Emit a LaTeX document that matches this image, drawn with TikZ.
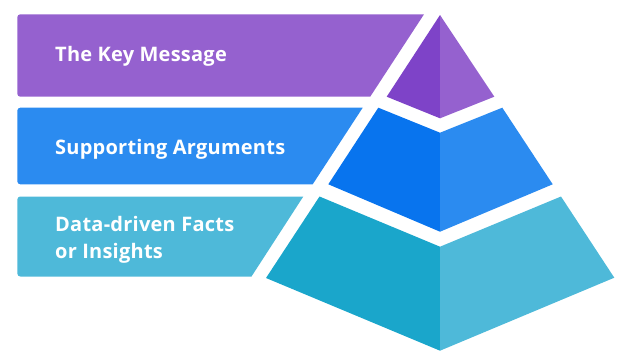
\documentclass[tikz,border=0pt]{standalone}
\usepackage{fontspec}
\setmainfont{Open Sans}[LetterSpace=1.2]
\definecolor{purA}{HTML}{9561CF}
\definecolor{purB}{HTML}{7E43C8}
\definecolor{bluA}{HTML}{2B8BF0}
\definecolor{bluB}{HTML}{0874EE}
\definecolor{tealA}{HTML}{4EB9D9}
\definecolor{tealB}{HTML}{1AA6CB}
\begin{document}
\begin{tikzpicture}[x=1pt,y=-1pt,
  lbl/.style={text=white,font=\bfseries\fontsize{20}{26.6}\selectfont,anchor=base west,inner sep=0pt,align=left}]
\useasboundingbox (0,0) rectangle (623,357);
% bands
\fill[purA] (424,14.3) -- (370.2,96.7) [rounded corners=3] -- (17.3,96.7) -- (17.3,14.3) [sharp corners] -- cycle;
\fill[bluA] (362.7,107.7) -- (312.7,184.3) [rounded corners=3] -- (17.3,184.3) -- (17.3,107.7) [sharp corners] -- cycle;
\fill[tealA] (303.3,196.5) -- (251.5,276.5) [rounded corners=3] -- (17.3,276.5) -- (17.3,196.5) [sharp corners] -- cycle;
% pyramid top
\fill[purB] (440,15) -- (386.7,96.7) -- (440,118.3) -- cycle;
\fill[purA] (440,15) -- (494.3,96.7) -- (440,118.3) -- cycle;
% middle
\fill[bluB] (378.3,107.7) -- (440,132.7) -- (440,231.7) -- (328.3,184.3) -- cycle;
\fill[bluA] (502.3,107.7) -- (440,132.7) -- (440,231.7) -- (552.7,184.3) -- cycle;
% bottom
\fill[tealB] (319.5,196.5) -- (440,246.7) -- (440,350.7) -- (266,278) -- cycle;
\fill[tealA] (561,196.5) -- (440,246.7) -- (440,350.7) -- (614.3,277.7) -- cycle;
% labels
\node[lbl] (t1) at (55,61.7) {The Key Message};
\node[lbl] (t2) at (55,154) {Supporting Arguments};
\node[lbl] (t3) at (55,231.7) {Data-driven Facts};
\node[lbl] (t4) at (55,258.3) {or Insights};
\end{tikzpicture}
\end{document}
